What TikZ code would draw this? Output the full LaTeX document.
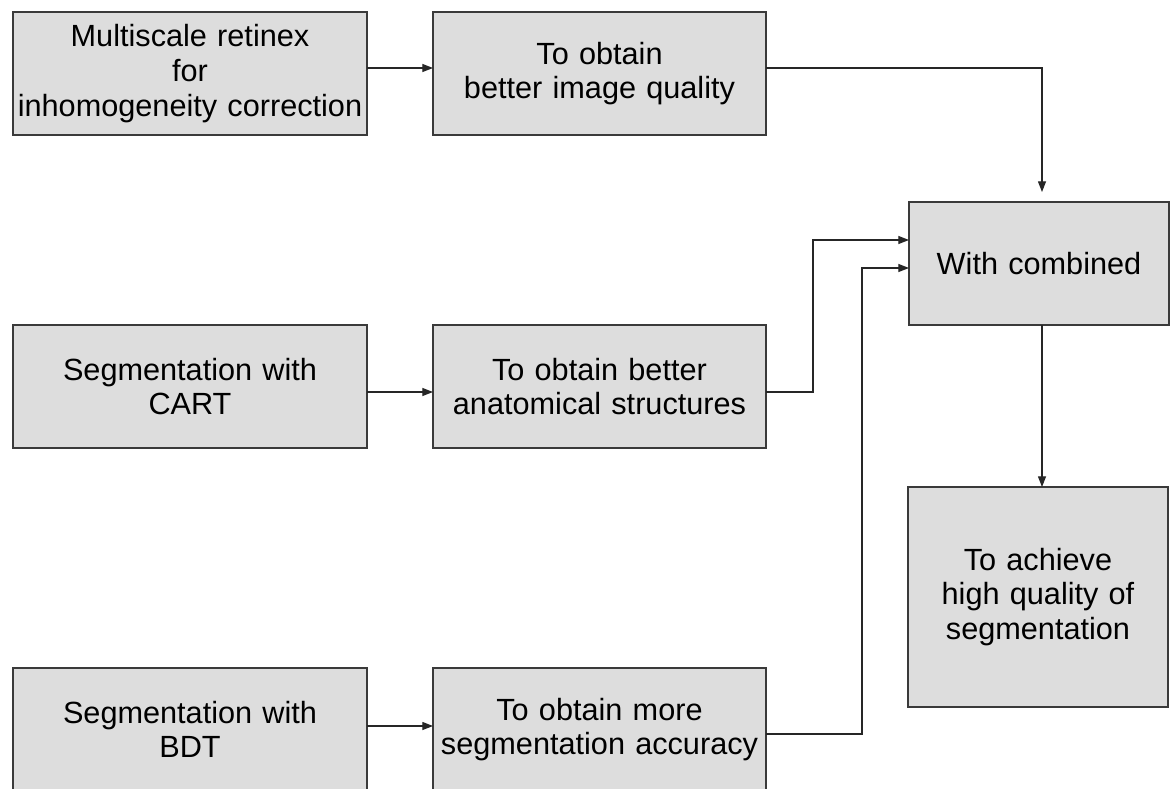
\documentclass[tikz,border=0pt]{standalone}
\usepackage{fontspec}
\setmainfont{Liberation Sans}
\usepackage{tikz}
\usetikzlibrary{arrows.meta}

\definecolor{boxfill}{HTML}{DDDDDD}
\definecolor{boxline}{HTML}{3A3A3A}

\tikzset{
    box/.style={draw=boxline, fill=boxfill, line width=1.1pt, inner sep=0pt, outer sep=0pt,
        align=center, font=\fontsize{23}{26}\selectfont, minimum height=92.25pt},
    wide/.style={box, minimum width=265.5pt, text width=262pt},
    mid/.style={box, minimum width=249.75pt, text width=246pt},
    narrow/.style={box, minimum width=195pt, text width=190pt},
    link/.style={draw=black!85, line width=0.9pt, -{Triangle[length=8pt,width=6pt]}}
}

\begin{document}
\begin{tikzpicture}[x=0.75pt, y=-0.75pt]
    \useasboundingbox (0,0) rectangle (1172,789);
    \clip (0,0) rectangle (1172,789);

    % left column
    \node[wide] (retinex) at (190,73.5) {Multiscale retinex\\for\\inhomogeneity correction};
    \node[wide] (cart) at (190,386.5) {Segmentation with\\CART};
    \node[wide] (bdt) at (190,729.5) {Segmentation with\\BDT};

    % middle column
    \node[mid] (quality) at (599.5,73.5) {To obtain\\better image quality};
    \node[mid] (anatomy) at (599.5,386.5) {To obtain better\\anatomical structures};
    \node[mid] (accuracy) at (599.5,729.5) {To obtain more\\segmentation accuracy};

    % right column
    \node[narrow] (combined) at (1039,263.5) {With combined};
    \node[narrow, minimum height=165pt] (achieve) at (1038,597) {To achieve\\high quality of\\segmentation};

    % arrows
    \draw[link] ([shift={(0,-5.5)}]retinex.east) -- ([shift={(0,-5.5)}]quality.west);
    \draw[link] ([shift={(0,5.5)}]cart.east) -- ([shift={(0,5.5)}]anatomy.west);
    \draw[link] ([shift={(0,-3.5)}]bdt.east) -- ([shift={(0,-3.5)}]accuracy.west);

    \draw[link, shorten >=7.5pt] ([shift={(0,-5.5)}]quality.east) -| ([shift={(3,0)}]combined.north);
    \draw[link] ([shift={(0,5.5)}]anatomy.east) -- ++(47,0) |- ([shift={(0,-23.5)}]combined.west);
    \draw[link] ([shift={(0,4.5)}]accuracy.east) -- ++(96,0) |- ([shift={(0,4.5)}]combined.west);

    \draw[link] ([shift={(3,0)}]combined.south) -- ([shift={(4,0)}]achieve.north);

\end{tikzpicture}
\end{document}
